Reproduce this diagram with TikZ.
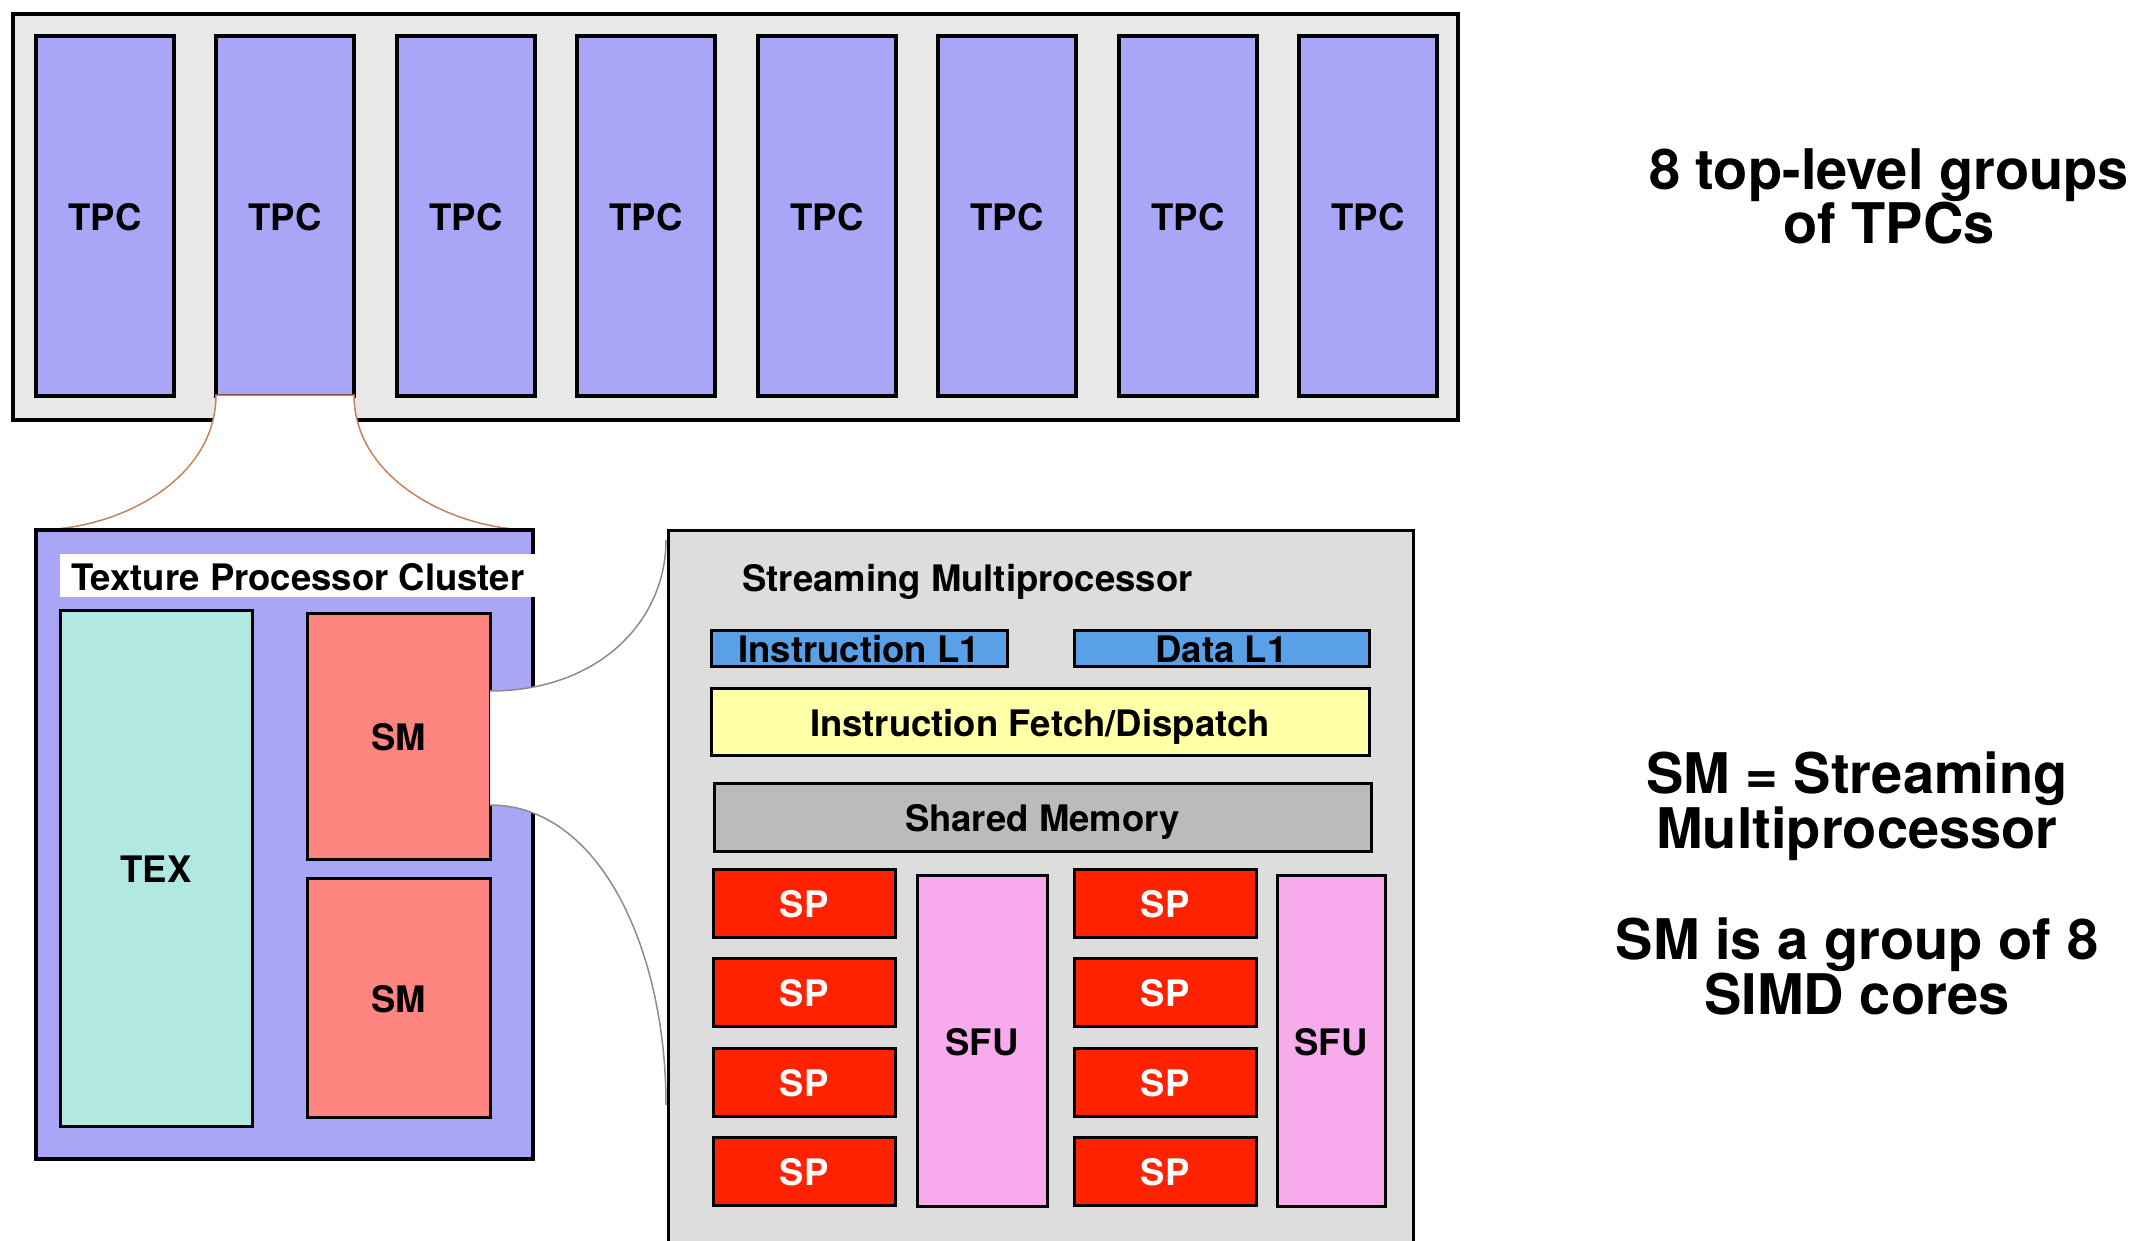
\documentclass[tikz,border=0pt]{standalone}
\usepackage{fontspec}
\setmainfont{TeX Gyre Heros}
\definecolor{tpcfill}{HTML}{AAA6F7}
\definecolor{chipgray}{HTML}{E8E8E8}
\definecolor{texfill}{HTML}{B2E8E2}
\definecolor{smfill}{HTML}{FF8580}
\definecolor{smgray}{HTML}{DDDDDD}
\definecolor{cacheblue}{HTML}{5AA0E6}
\definecolor{fetchyellow}{HTML}{FFFFA8}
\definecolor{memgray}{HTML}{BBBBBB}
\definecolor{spred}{HTML}{FF2200}
\definecolor{sfupink}{HTML}{F8ABEC}
\definecolor{zoombrown}{HTML}{C8825A}
\definecolor{zoomgray}{HTML}{8C8C8C}
\tikzset{
  unit/.style={draw=black, line width=3pt, anchor=north west, outer sep=0pt, inner sep=0pt, text height=29pt, text depth=0pt, font=\fontsize{36.5}{40}\selectfont\bfseries},
  note/.style={align=center, anchor=north, inner sep=0pt, font=\fontsize{56}{54.5}\selectfont\bfseries},
}
\newcommand{\Unit}[3][]{\node[unit, #1] (#2) {#3};}
\newcommand{\UnitTPC}[2][]{\Unit[fill=tpcfill, line width=4pt, minimum width=138pt, minimum height=360pt, #1]{#2}{TPC}}
\newcommand{\UnitSM}[2][]{\Unit[fill=smfill, minimum width=183pt, #1]{#2}{SM}}
\newcommand{\UnitSP}[2][]{\Unit[fill=spred, text=white, minimum width=182pt, minimum height=68pt, #1]{#2}{SP}}
\newcommand{\UnitSFU}[2][]{\Unit[fill=sfupink, minimum height=331pt, #1]{#2}{SFU}}

\begin{document}
\begin{tikzpicture}[x=1pt, y=-1pt]
\useasboundingbox (0,0) rectangle (2142,1241);
\clip (0,0) rectangle (2142,1241);

\Unit[at={(13,14)}, fill=chipgray, line width=4pt, minimum width=1445pt, minimum height=406pt]{GPU}{}
\UnitTPC[at={(36,36)}]{TPC1}
\UnitTPC[at={(216,36)}]{TPC2}
\UnitTPC[at={(397,36)}]{TPC3}
\UnitTPC[at={(577,36)}]{TPC4}
\UnitTPC[at={(758,36)}]{TPC5}
\UnitTPC[at={(938,36)}]{TPC6}
\UnitTPC[at={(1119,36)}]{TPC7}
\UnitTPC[at={(1299,36)}]{TPC8}

\coordinate (TPCLnw) at (36,530);
\coordinate (TPCLne) at (533,530);
\filldraw[fill=white, draw=zoombrown, line width=1.5pt] ([yshift=1pt]TPC2.south west) .. controls +(0,84) and +(84,0) .. (TPCLnw) -- (TPCLne) .. controls +(-80,0) and +(0,84) .. ([yshift=1pt]TPC2.south east) -- cycle;

\Unit[at={(36,530)}, fill=tpcfill, line width=4pt, minimum width=497pt, minimum height=629pt]{TPCL}{}
\node[fill=white, anchor=north west, inner xsep=11pt, inner ysep=0pt, minimum width=473pt, minimum height=43pt, text height=29pt, text depth=0pt, font=\fontsize{36.5}{40}\selectfont\bfseries, at={(60,554)}] (TPCtitle) {Texture Processor Cluster};
\Unit[at={(60,610)}, fill=texfill, minimum width=192pt, minimum height=516pt]{TEX}{TEX}
\UnitSM[at={(307,613)}, minimum height=246pt]{SMa}
\UnitSM[at={(307,878)}, minimum height=239pt]{SMb}

\coordinate (SMin1) at (666,540);
\coordinate (SMin2) at (666,1105);
\fill[white] ([yshift=-78pt]SMa.north east) .. controls +(110,0) and +(0,80) .. (SMin1) -- (SMin2) .. controls +(0,-155) and +(110,0) .. ([yshift=-192pt]SMa.north east) -- cycle;
\draw[zoomgray, line width=1.5pt] ([yshift=-78pt]SMa.north east) .. controls +(110,0) and +(0,80) .. (SMin1);
\draw[zoomgray, line width=1.5pt] ([yshift=-192pt]SMa.north east) .. controls +(110,0) and +(0,-155) .. (SMin2);

\Unit[at={(668,530)}, fill=smgray, minimum width=745pt, minimum height=760pt]{SMbox}{}
\node[anchor=west, inner sep=0pt, text height=29pt, text depth=0pt, font=\fontsize{36.5}{40}\selectfont\bfseries, at={(742,577)}] (SMtitle) {Streaming Multiprocessor};
\Unit[at={(711,630)}, fill=cacheblue, minimum width=296pt, minimum height=36pt]{IL1}{Instruction L1}
\Unit[at={(1074,630)}, fill=cacheblue, minimum width=295pt, minimum height=36pt]{DL1}{Data L1}
\Unit[at={(711,688)}, fill=fetchyellow, minimum width=658pt, minimum height=67pt]{IFD}{Instruction Fetch/Dispatch}
\Unit[at={(714,783)}, fill=memgray, minimum width=657pt, minimum height=68pt]{SMem}{Shared Memory}

\UnitSP[at={(713,869)}]{SP1}
\UnitSP[at={(713,958)}]{SP2}
\UnitSP[at={(713,1048)}]{SP3}
\UnitSP[at={(713,1137)}]{SP4}
\UnitSP[at={(1074,869)}]{SP5}
\UnitSP[at={(1074,958)}]{SP6}
\UnitSP[at={(1074,1048)}]{SP7}
\UnitSP[at={(1074,1137)}]{SP8}
\UnitSFU[at={(917,875)}, minimum width=130pt]{SFU1}
\UnitSFU[at={(1277,875)}, minimum width=108pt]{SFU2}

\node[note, at={(1889,148)}] (NoteTPC) {8 top-level groups\\of TPCs};
\node[note, at={(1857,752)}] (NoteSM) {SM = Streaming\\Multiprocessor};
\node[note, at={(1857,918)}] (NoteSIMD) {SM is a group of 8\\SIMD cores};
\end{tikzpicture}
\end{document}
